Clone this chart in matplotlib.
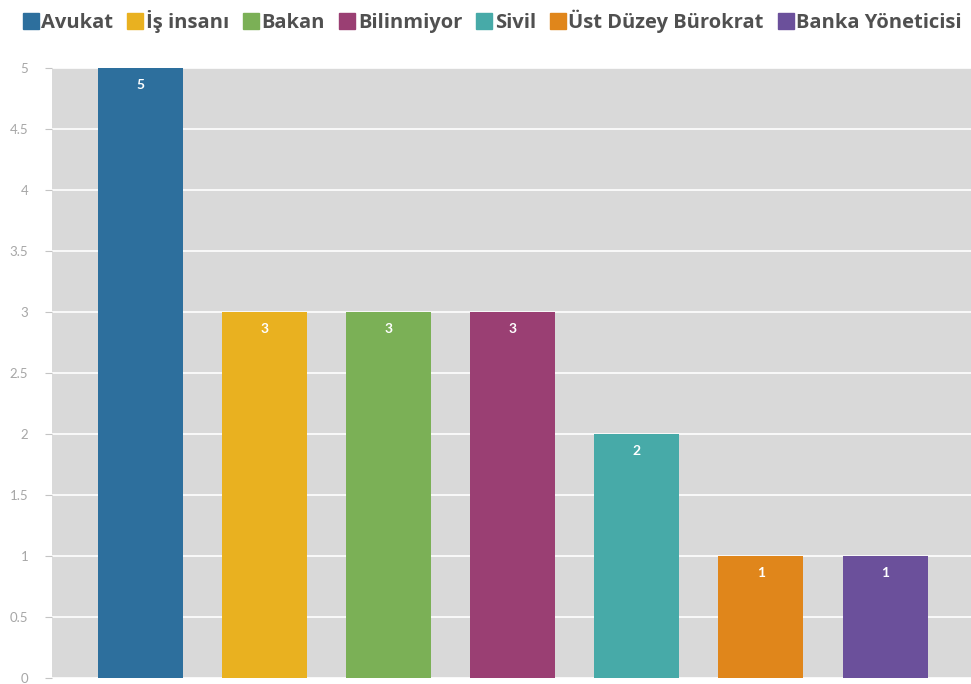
import matplotlib
matplotlib.use("Agg")
import matplotlib.pyplot as plt
from matplotlib.lines import Line2D

categories = ["Avukat", "İş insanı", "Bakan", "Bilinmiyor", "Sivil", "Üst Düzey Bürokrat", "Banka Yöneticisi"]
values = [5, 3, 3, 3, 2, 1, 1]
colors = ["#2d6f9d", "#e9b120", "#7bb056", "#9a3f73", "#47aaa8", "#e0861b", "#6b509b"]
yticks = [0, 0.5, 1, 1.5, 2, 2.5, 3, 3.5, 4, 4.5, 5]
ytick_labels = ["0", "0.5", "1", "1.5", "2", "2.5", "3", "3.5", "4", "4.5", "5"]

fig = plt.figure(figsize=(9.71, 6.84), dpi=100)
W, H = 971, 684
ax = fig.add_axes([52 / W, 6 / H, (971 - 52) / W, (678 - 68) / H])
ax.set_facecolor("#d9d9d9")

x = list(range(len(categories)))
bars = ax.bar(x, values, width=0.685, color=colors, zorder=3)
for xi, v in zip(x, values):
    ax.text(xi, v - 0.14, str(v), ha="center", va="center", color="white",
            fontsize=10, fontweight="bold", family="Lato", zorder=4)

ax.set_xlim(-0.713, 6.693)
ax.set_ylim(0, 5)
ax.set_yticks(yticks)
ax.set_yticklabels(ytick_labels)
ax.set_xticks([])
ax.yaxis.grid(True, color="white", linewidth=1.2, zorder=1)
ax.set_axisbelow(True)
for s in ax.spines.values():
    s.set_visible(False)
ax.tick_params(axis="y", colors="#c4c4c4", labelcolor="#a6a6a6", labelsize=9.5,
               length=5, width=0.8, pad=12)
for lbl in ax.get_yticklabels():
    lbl.set_family("Lato")

handles = [Line2D([0], [0], marker="s", linestyle="none", markersize=11,
                  markerfacecolor=c, markeredgecolor=c) for c in colors]
leg = fig.legend(handles, categories, loc="center left", bbox_to_anchor=(23 / W, 1 - 21 / H),
                 ncol=7, frameon=False, handlelength=0.75, handletextpad=0.15,
                 columnspacing=0.72, borderaxespad=0.0, borderpad=0.0,
                 prop={"family": "Open Sans", "weight": "bold", "size": 14.5})
for t in leg.get_texts():
    t.set_color("#505050")

fig.savefig("out.png", dpi=100)
